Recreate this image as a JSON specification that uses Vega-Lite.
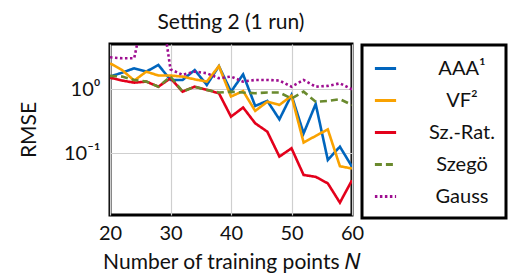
{
  "$schema": "https://vega.github.io/schema/vega-lite/v6.json",
  "width": 242,
  "height": 171,
  "autosize": "none",
  "padding": {"left": 110, "top": 44, "right": 157, "bottom": 64},
  "title": {"text": "Setting 2 (1 run)", "fontSize": 21, "fontWeight": "normal", "font": "Lato", "offset": 11, "color": "#111"},
  "config": {
    "view": {"stroke": "black", "strokeWidth": 3},
    "font": "Lato",
    "axis": {"labelFont": "Lato", "titleFont": "Lato", "labelFontSize": 20, "titleFontSize": 21, "titleFontWeight": "normal", "labelColor": "#111", "titleColor": "#111", "domain": false, "ticks": false, "gridColor": "#cfcfcf", "gridWidth": 1.2, "labelFlush": false},
    "legend": {"orient": "none", "legendX": 252, "legendY": 1, "strokeColor": "black", "strokeWidth": 3, "padding": 11, "symbolType": "stroke", "symbolSize": 450, "symbolStrokeWidth": 3, "labelFont": "Lato", "labelFontSize": 20, "labelColor": "#111", "labelAlign": "center", "labelOffset": 64, "rowPadding": 9, "fillColor": "white"}
  },
  "data": {"values": [
    {"N":20,"m":"AAA¹","v":1.58},{"N":22,"m":"AAA¹","v":1.82},{"N":24,"m":"AAA¹","v":2.13},{"N":26,"m":"AAA¹","v":1.89},{"N":28,"m":"AAA¹","v":2.4},{"N":30,"m":"AAA¹","v":1.4},{"N":32,"m":"AAA¹","v":1.4},{"N":34,"m":"AAA¹","v":2.0},{"N":36,"m":"AAA¹","v":1.17},{"N":38,"m":"AAA¹","v":2.3},{"N":40,"m":"AAA¹","v":0.92},{"N":42,"m":"AAA¹","v":1.71},{"N":44,"m":"AAA¹","v":0.55},{"N":46,"m":"AAA¹","v":0.66},{"N":48,"m":"AAA¹","v":0.34},{"N":50,"m":"AAA¹","v":0.815},{"N":52,"m":"AAA¹","v":0.205},{"N":54,"m":"AAA¹","v":0.59},{"N":56,"m":"AAA¹","v":0.079},{"N":58,"m":"AAA¹","v":0.127},{"N":60,"m":"AAA¹","v":0.062},
    {"N":20,"m":"VF²","v":2.55},{"N":22,"m":"VF²","v":2.0},{"N":24,"m":"VF²","v":1.37},{"N":26,"m":"VF²","v":1.89},{"N":28,"m":"VF²","v":1.64},{"N":30,"m":"VF²","v":1.64},{"N":32,"m":"VF²","v":1.58},{"N":34,"m":"VF²","v":1.43},{"N":36,"m":"VF²","v":1.32},{"N":38,"m":"VF²","v":2.3},{"N":40,"m":"VF²","v":0.77},{"N":42,"m":"VF²","v":0.94},{"N":44,"m":"VF²","v":0.46},{"N":46,"m":"VF²","v":0.64},{"N":48,"m":"VF²","v":0.57},{"N":50,"m":"VF²","v":0.79},{"N":52,"m":"VF²","v":0.148},{"N":54,"m":"VF²","v":0.187},{"N":56,"m":"VF²","v":0.237},{"N":58,"m":"VF²","v":0.063},{"N":60,"m":"VF²","v":0.058},
    {"N":20,"m":"Sz.-Rat.","v":1.52},{"N":22,"m":"Sz.-Rat.","v":1.37},{"N":24,"m":"Sz.-Rat.","v":1.27},{"N":26,"m":"Sz.-Rat.","v":1.32},{"N":28,"m":"Sz.-Rat.","v":1.1},{"N":30,"m":"Sz.-Rat.","v":1.49},{"N":32,"m":"Sz.-Rat.","v":0.92},{"N":34,"m":"Sz.-Rat.","v":1.1},{"N":36,"m":"Sz.-Rat.","v":0.98},{"N":38,"m":"Sz.-Rat.","v":0.87},{"N":40,"m":"Sz.-Rat.","v":0.374},{"N":42,"m":"Sz.-Rat.","v":0.52},{"N":44,"m":"Sz.-Rat.","v":0.295},{"N":46,"m":"Sz.-Rat.","v":0.218},{"N":48,"m":"Sz.-Rat.","v":0.089},{"N":50,"m":"Sz.-Rat.","v":0.12},{"N":52,"m":"Sz.-Rat.","v":0.046},{"N":54,"m":"Sz.-Rat.","v":0.043},{"N":56,"m":"Sz.-Rat.","v":0.034},{"N":58,"m":"Sz.-Rat.","v":0.017},{"N":60,"m":"Sz.-Rat.","v":0.038},
    {"N":20,"m":"Szegö","v":1.62},{"N":22,"m":"Szegö","v":1.58},{"N":24,"m":"Szegö","v":1.4},{"N":26,"m":"Szegö","v":1.32},{"N":28,"m":"Szegö","v":1.1},{"N":30,"m":"Szegö","v":1.58},{"N":32,"m":"Szegö","v":0.92},{"N":34,"m":"Szegö","v":1.1},{"N":36,"m":"Szegö","v":0.98},{"N":38,"m":"Szegö","v":0.89},{"N":40,"m":"Szegö","v":0.92},{"N":42,"m":"Szegö","v":0.89},{"N":44,"m":"Szegö","v":0.87},{"N":46,"m":"Szegö","v":0.89},{"N":48,"m":"Szegö","v":0.89},{"N":50,"m":"Szegö","v":0.72},{"N":52,"m":"Szegö","v":0.92},{"N":54,"m":"Szegö","v":0.64},{"N":56,"m":"Szegö","v":0.66},{"N":58,"m":"Szegö","v":0.7},{"N":60,"m":"Szegö","v":0.57},
    {"N":20,"m":"Gauss","v":3.16},{"N":22,"m":"Gauss","v":3.05},{"N":24,"m":"Gauss","v":3.05},{"N":26,"m":"Gauss","v":25},{"N":28,"m":"Gauss","v":40},{"N":30,"m":"Gauss","v":2.05},{"N":32,"m":"Gauss","v":1.68},{"N":34,"m":"Gauss","v":1.89},{"N":36,"m":"Gauss","v":1.78},{"N":38,"m":"Gauss","v":1.49},{"N":40,"m":"Gauss","v":1.58},{"N":42,"m":"Gauss","v":1.32},{"N":44,"m":"Gauss","v":1.4},{"N":46,"m":"Gauss","v":1.4},{"N":48,"m":"Gauss","v":1.37},{"N":50,"m":"Gauss","v":1.1},{"N":52,"m":"Gauss","v":1.4},{"N":54,"m":"Gauss","v":1.1},{"N":56,"m":"Gauss","v":1.13},{"N":58,"m":"Gauss","v":1.24},{"N":60,"m":"Gauss","v":1.0}
  ]},
  "mark": {"type": "line", "strokeWidth": 2.6, "clip": true},
  "encoding": {
    "x": {"field": "N", "type": "quantitative", "scale": {"domain": [20, 60], "nice": false}, "axis": {"values": [20, 30, 40, 50, 60], "title": "Number of training points 𝑁", "labelPadding": 8, "titlePadding": 8}},
    "y": {"field": "v", "type": "quantitative", "scale": {"type": "log", "domain": [0.0109, 5.1], "nice": false}, "axis": {"values": [0.1, 1], "labelExpr": "datum.value >= 1 ? '10⁰' : '10⁻¹'", "title": "RMSE", "labelPadding": 10, "titlePadding": 24}},
    "color": {"field": "m", "type": "nominal", "scale": {"domain": ["AAA¹", "VF²", "Sz.-Rat.", "Szegö", "Gauss"], "range": ["#0065BD", "#F9A200", "#E3001B", "#6A8A2E", "#9E0E90"]}, "legend": {"title": null}},
    "strokeDash": {"field": "m", "type": "nominal", "scale": {"domain": ["AAA¹", "VF²", "Sz.-Rat.", "Szegö", "Gauss"], "range": [[1, 0], [1, 0], [1, 0], [7, 4], [2.5, 2.5]]}, "legend": {"title": null}}
  }
}
